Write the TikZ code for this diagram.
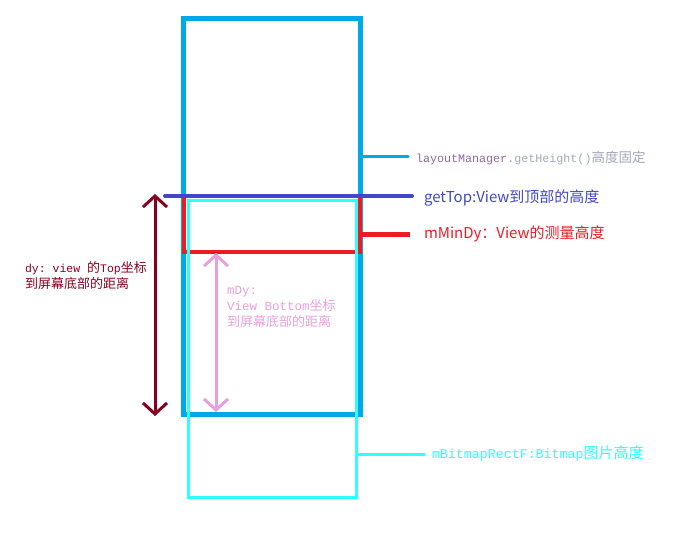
\documentclass[tikz,border=0pt]{standalone}
\usepackage{fontspec}
\setmonofont{Liberation Mono}
\newfontfamily\cjk{Noto Sans CJK SC}
\usetikzlibrary{arrows.meta}
\definecolor{boxblue}{HTML}{00A8E8}
\definecolor{topblue}{HTML}{4048C8}
\definecolor{minred}{HTML}{ED1C24}
\definecolor{bmcyan}{HTML}{30FFFF}
\definecolor{dyred}{HTML}{880020}
\definecolor{mdypink}{HTML}{E8A0DC}
\definecolor{lmpurple}{HTML}{9068A0}
\definecolor{lmgray}{HTML}{A0A8B8}
\newcommand\cj[1]{{\cjk\fontsize{13}{16}\selectfont #1}}
\tikzset{
  lbl/.style={anchor=west, inner sep=0pt, outer sep=0pt, align=left},
  barb/.style={line width=3pt, arrows={Straight Barb[length=11pt,width=24pt,line width=3pt]-Straight Barb[length=11pt,width=24pt,line width=3pt]}},
}
\begin{document}
\begin{tikzpicture}[x=1pt,y=-1pt]
\useasboundingbox (0,0) rectangle (695,536);
% view box
\draw[boxblue, line width=5pt] (183.5,18.5) rectangle (360.5,414.5);
% measured height (red)
\draw[minred, line width=4.5pt] (184,198) -- (184,252) -- (360,252) -- (360,198);
% bitmap rect (cyan)
\draw[bmcyan, line width=3pt] (188.5,200.5) rectangle (356.5,497.5);
% getTop line
\draw[topblue, line width=4pt, line cap=round] (165,196) -- (360,196);

% labels
\node[lbl, font={\fontsize{11.7}{14}\selectfont\ttfamily}] (lm) at (416,158) {\color{lmpurple}layoutManager\color{lmgray}.getHeight(){\cjk\fontsize{13.5}{16}\selectfont 高度固定}};
\node[lbl, text=topblue, font={\cjk\fontsize{15}{18}\selectfont}] (gt) at (424,198) {getTop:View到顶部的高度};
\node[lbl, text=minred, font={\cjk\fontsize{15}{18}\selectfont}] (mm) at (424,234) {mMinDy：View的测量高度};
\node[lbl, text=bmcyan, font={\fontsize{13.3}{16}\selectfont\ttfamily}] (bm) at (432,454) {mBitmapRectF:Bitmap{\cjk\fontsize{15}{18}\selectfont 图片高度}};

\coordinate (lmA) at (360,156.5);
\coordinate (lmB) at (408,156.5);
\draw[boxblue, line width=3.5pt, line cap=round] (lmA) -- (lmB);
\coordinate (gtB) at (412,196);
\draw[topblue, line width=4pt, line cap=round] (360,196) -- (gtB);
\coordinate (mmA) at (360,234.5);
\coordinate (mmB) at (410,234.5);
\draw[minred, line width=4.5pt] (mmA) -- (mmB);
\coordinate (bmA) at (356.5,454.5);
\coordinate (bmB) at (425,454.5);
\draw[bmcyan, line width=3pt] (bmA) -- (bmB);

% dy arrow
\coordinate (dyT) at (155,194);
\coordinate (dyB) at (155,416);
\draw[dyred, barb] (dyT) -- (dyB);
\node[lbl, text=dyred, font={\fontsize{11.5}{16}\selectfont\ttfamily}] (dy) at (25,276) {dy: view \cj{的}Top\cj{坐标}\\\cj{到屏幕底部的距离}};

% mDy arrow
\coordinate (mdT) at (216,253);
\coordinate (mdB) at (216,412);
\draw[mdypink, barb] (mdT) -- (mdB);
\node[lbl, text=mdypink, font={\fontsize{12.5}{16}\selectfont\ttfamily}] (md) at (227,307) {mDy:\\View Bottom\cj{坐标}\\\cj{到屏幕底部的距离}};
\end{tikzpicture}
\end{document}
